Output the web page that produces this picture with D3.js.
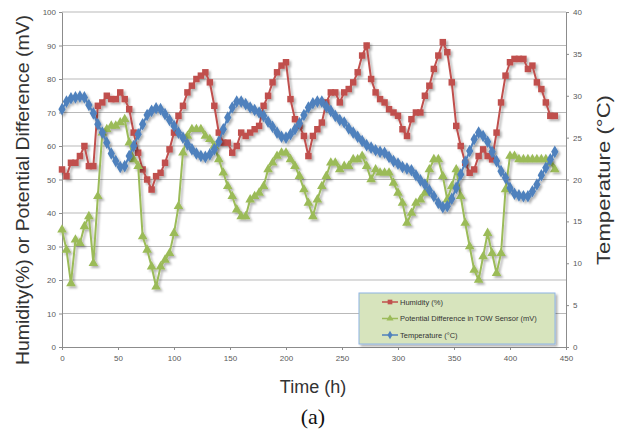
<!DOCTYPE html>
<html>
<head>
<meta charset="utf-8">
<script src="https://cdn.jsdelivr.net/npm/d3@7"></script>
<style>
  body { margin: 0; background: #fff; }
  text { font-family: "Liberation Sans", Arial, sans-serif; }
</style>
</head>
<body>
<div class="chart"></div>
<script>
// time in hours (one reading every 4 h)
const hours = [
  0,4,8,12,16,20,24,28,32,36,
  40,44,48,52,56,60,64,68,72,76,
  80,84,88,92,96,100,104,108,112,116,
  120,124,128,132,136,140,144,148,152,156,
  160,164,168,172,176,180,184,188,192,196,
  200,204,208,212,216,220,224,228,232,236,
  240,244,248,252,256,260,264,268,272,276,
  280,284,288,292,296,300,304,308,312,316,
  320,324,328,332,336,340,344,348,352,356,
  360,364,368,372,376,380,384,388,392,396,
  400,404,408,412,416,420,424,428,432,436,440
]
const humidity = [
  53,51,55,55,57,60,54,54,72,73,
  75,74,74,76,74,71,64,58,53,50,
  47,51,52,55,59,64,69,72,76,78,
  80,81,82,79,72,64,61,61,58,60,
  64,63,64,65,66,72,75,79,82,84,
  85,74,68,66,63,57,63,65,67,73,
  76,76,73,76,77,79,82,87,90,80,
  76,74,73,71,70,69,65,63,68,70,
  70,75,78,83,87,91,88,79,66,60,
  55,52,53,57,59,57,56,64,73,81,
  85,86,86,86,83,84,79,77,73,69,69
]
const potential = [
  35,29,19,32,31,36,39,25,45,64,
  65,66,66,67,68,61,56,54,33,29,
  24,18,24,26,28,34,42,58,63,65,
  65,65,63,62,60,56,52,48,45,41,
  39,39,44,45,46,48,53,55,57,58,
  58,56,54,51,47,43,39,44,48,51,
  55,55,53,54,54,56,56,57,54,50,
  53,52,52,52,49,46,43,37,40,43,
  44,46,53,56,56,51,44,48,53,45,
  37,30,23,20,27,34,28,22,28,47,
  57,57,56,56,56,56,56,56,56,55,53
]
const temperature = [
  28.4,29.3,29.7,29.8,29.9,29.8,28.9,27.9,26.6,25.6,
  24.4,23.1,22.2,21.5,21.6,22.8,24.0,25.4,26.6,27.7,
  28.2,28.5,28.4,27.8,27.1,26.4,25.6,25.0,24.2,23.6,
  23.1,22.8,22.7,23.0,23.6,24.5,26.0,27.4,28.6,29.3,
  29.3,29.0,28.6,28.3,28.0,27.6,26.9,26.3,25.6,25.1,
  25.0,25.4,26.0,26.7,27.7,28.6,29.1,29.3,29.3,28.7,
  28.2,27.6,27.1,26.8,26.1,25.6,25.1,24.6,24.1,23.8,
  23.5,23.3,23.2,22.7,22.2,21.9,21.5,21.3,21.1,20.5,
  19.9,19.4,18.7,18.0,17.2,16.7,16.8,17.7,19.0,20.6,
  22.1,23.4,24.8,25.6,25.2,24.5,23.3,22.2,21.0,20.2,
  19.0,18.3,18.1,18.0,18.0,18.6,19.4,20.5,21.4,22.4,23.3
]
const leftTicks = [0,10,20,30,40,50,60,70,80,90,100]
const rightTicks = [0,5,10,15,20,25,30,35,40]
const timeTicks = [0,50,100,150,200,250,300,350,400,450]
const legendLabels = ["Humidity (%)", "Potential Difference in TOW Sensor (mV)", "Temperature (°C)"]

const margin = {top: 12, right: 59, bottom: 86, left: 62}
const W = 625, H = 433
const width = W - margin.left - margin.right
const height = H - margin.top - margin.bottom

const svg0 = d3.select(".chart").append("svg").attr("width", W).attr("height", H)

const defs = svg0.append("defs")
const f = defs.append("filter").attr("id", "shadow").attr("x", "-10%").attr("y", "-10%").attr("width", "120%").attr("height", "120%")
f.append("feDropShadow").attr("dx", 2).attr("dy", 2).attr("stdDeviation", 1.2)
  .attr("flood-color", "#000").attr("flood-opacity", 0.3)

const svg = svg0.append("g").attr("transform", `translate(${margin.left},${margin.top})`)

const x = d3.scaleLinear().domain([0, 450]).range([0, width])
const yL = d3.scaleLinear().domain([0, 100]).range([height, 0])
const yR = d3.scaleLinear().domain([0, 40]).range([height, 0])

// gridlines
svg.append("g").selectAll("line").data(leftTicks.slice(1)).enter().append("line")
  .attr("x1", 0).attr("x2", width)
  .attr("y1", d => yL(d)).attr("y2", d => yL(d))
  .attr("stroke", "#b9b9b9").attr("stroke-width", 1)

function styleAxis(g) {
  g.select(".domain").attr("stroke", "#8c8c8c")
  g.selectAll(".tick line").attr("stroke", "#8c8c8c")
  g.selectAll("text").style("font-size", "8px").attr("fill", "#595959")
}

svg.append("g").call(d3.axisLeft(yL).tickValues(leftTicks).tickSize(3).tickSizeOuter(0).tickPadding(3)).call(styleAxis)
svg.append("g").attr("transform", `translate(${width},0)`)
  .call(d3.axisRight(yR).tickValues(rightTicks).tickSize(3).tickSizeOuter(0).tickPadding(4)).call(styleAxis)
svg.append("g").attr("transform", `translate(0,${height})`)
  .call(d3.axisBottom(x).tickValues(timeTicks).tickSize(3).tickSizeOuter(0).tickPadding(5)).call(styleAxis)

const series = [
  {name: legendLabels[0], values: humidity, y: yL, color: "#c0504d", sym: d3.symbolSquare, size: 42},
  {name: legendLabels[1], values: potential, y: yL, color: "#9bbb59", sym: d3.symbolTriangle, size: 40},
  {name: legendLabels[2], values: temperature, y: yR, color: "#4f81bd", sym: d3.symbolDiamond, size: 46}
]

series.forEach(s => {
  const pts = hours.map((h, i) => ({t: h, v: s.values[i]}))
  const g = svg.append("g").attr("filter", "url(#shadow)")
  g.append("path").datum(pts)
    .attr("fill", "none").attr("stroke", s.color).attr("stroke-width", 2)
    .attr("d", d3.line().x(d => x(d.t)).y(d => s.y(d.v)))
  g.selectAll("path.m").data(pts).enter().append("path").attr("class", "m")
    .attr("transform", d => `translate(${x(d.t)},${s.y(d.v)})`)
    .attr("d", d3.symbol().type(s.sym).size(s.size))
    .attr("fill", s.color)
})

// legend
const lg = svg0.append("g").attr("transform", "translate(359,293)")
lg.append("rect").attr("width", 196).attr("height", 51)
  .attr("fill", "#d7e4bd").attr("stroke", "#8eb4e3").attr("stroke-width", 1)
  .attr("filter", "url(#shadow)")
series.forEach((s, i) => {
  const yy = 9 + i * 16.5
  lg.append("line").attr("x1", 23).attr("x2", 39).attr("y1", yy).attr("y2", yy)
    .attr("stroke", s.color).attr("stroke-width", 1.5)
  lg.append("path").attr("transform", `translate(31,${yy})`)
    .attr("d", d3.symbol().type(s.sym).size(22)).attr("fill", s.color)
  lg.append("text").attr("x", 41).attr("y", yy).attr("dy", "0.35em")
    .style("font-size", "7.5px").attr("fill", "#333").text(s.name)
})

// axis titles
svg0.append("text").attr("transform", "translate(29,190) rotate(-90)")
  .attr("text-anchor", "middle").style("font-size", "19px").attr("fill", "#333")
  .attr("textLength", 350).attr("lengthAdjust", "spacingAndGlyphs")
  .text("Humidity(%) or Potential Difference (mV)")
svg0.append("text").attr("transform", "translate(610,180) rotate(-90)")
  .attr("text-anchor", "middle").style("font-size", "19px").attr("fill", "#333")
  .attr("textLength", 170).attr("lengthAdjust", "spacingAndGlyphs")
  .text("Temperature (°C)")
svg0.append("text").attr("x", 313).attr("y", 393)
  .attr("text-anchor", "middle").style("font-size", "18px").attr("fill", "#333")
  .text("Time  (h)")
svg0.append("text").attr("x", 313).attr("y", 424)
  .attr("text-anchor", "middle").style("font-size", "22px").attr("fill", "#111")
  .style("font-family", "'Liberation Serif', 'Times New Roman', serif")
  .text("(a)")
</script>
</body>
</html>
